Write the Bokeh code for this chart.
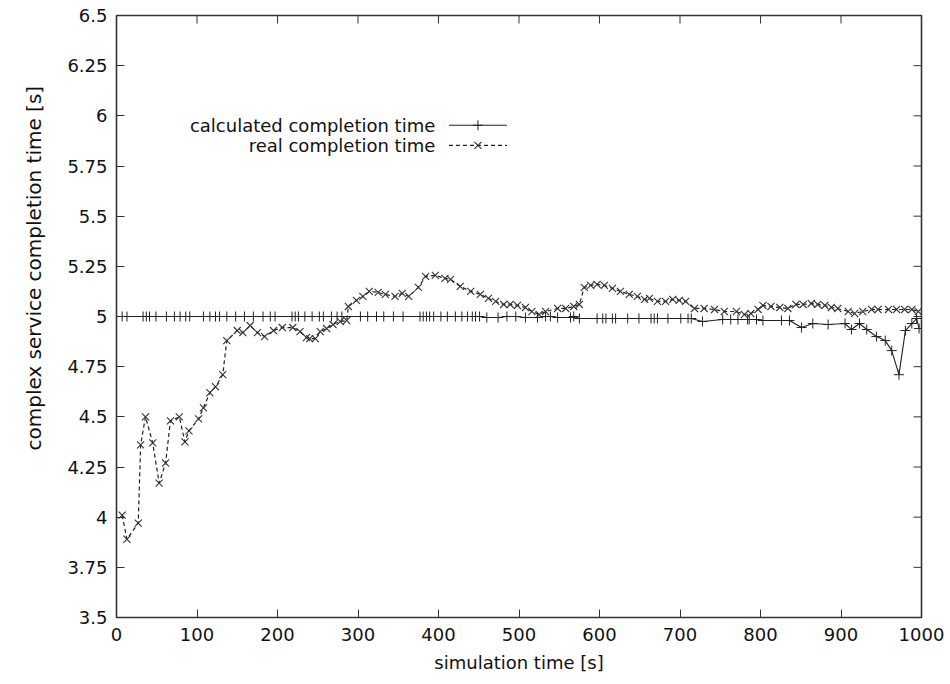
from bokeh.plotting import figure
from bokeh.models import Range1d, FixedTicker, Title
from bokeh.embed import file_html
from bokeh.resources import INLINE
from bokeh.core.properties import value

# ---- data ----
calc_x = [7, 13, 33, 37, 41, 49, 62, 72, 79, 86, 91, 108, 116, 123, 128, 137, 148, 159, 170, 182,
          191, 197, 218, 222, 226, 234, 243, 252, 257, 267, 274, 280, 303, 312, 323, 332, 344, 356,
          377, 381, 385, 389, 394, 403, 411, 421, 429, 436, 442, 446, 451, 460, 474, 485, 496, 508,
          523, 533, 539, 548, 564, 568, 575, 597, 604, 608, 616, 620, 635, 649, 664, 668, 672, 685,
          701, 710, 714, 728, 753, 763, 772, 784, 786, 795, 803, 826, 836, 851, 865, 884, 905, 913,
          923, 932, 944, 955, 963, 972, 980, 988, 994, 997]
calc_y = [5.0, 5.0, 5.0, 5.0, 5.0, 5.0, 5.0, 5.0, 5.0, 5.0, 5.0, 5.0, 5.0, 5.0, 5.0, 5.0, 5.0, 5.0,
          5.0, 5.0, 5.0, 5.0, 5.0, 5.0, 5.0, 5.0, 5.0, 5.0, 5.0, 5.0, 5.0, 5.0, 5.0, 5.0, 5.0, 5.0,
          5.0, 5.0, 5.0, 5.0, 5.0, 5.0, 5.0, 5.0, 5.0, 5.0, 5.0, 5.0, 5.0, 5.0, 5.0, 4.995, 4.995,
          5.0, 5.0, 4.995, 4.995, 5.0, 5.0, 4.995, 4.995, 5.0, 4.99, 4.99, 4.99, 4.99, 4.99, 4.99,
          4.99, 4.99, 4.99, 4.99, 4.99, 4.99, 4.99, 4.99, 4.99, 4.975, 4.985, 4.985, 4.985, 4.985,
          4.985, 4.985, 4.98, 4.98, 4.98, 4.945, 4.965, 4.96, 4.965, 4.935, 4.965, 4.935, 4.90,
          4.88, 4.83, 4.71, 4.93, 4.965, 4.99, 4.94]

real_x = [7, 13, 27, 30, 36, 45, 53, 61, 67, 78, 85, 90, 102, 108, 116, 123, 132, 137, 150, 157,
          166, 175, 184, 195, 206, 219, 228, 236, 240, 247, 253, 261, 269, 278, 286, 288, 298, 306,
          314, 325, 334, 346, 355, 363, 375, 384, 396, 408, 415, 427, 440, 452, 462, 471, 481, 489,
          498, 508, 516, 525, 533, 548, 558, 568, 575, 581, 589, 597, 606, 616, 626, 637, 647, 656,
          662, 672, 682, 691, 699, 707, 718, 730, 743, 755, 770, 780, 788, 797, 803, 813, 824, 834,
          844, 853, 863, 871, 880, 888, 896, 909, 917, 927, 938, 946, 959, 969, 979, 988, 996]
real_y = [4.01, 3.89, 3.97, 4.36, 4.50, 4.37, 4.17, 4.27, 4.48, 4.50, 4.375, 4.43, 4.49, 4.545,
          4.62, 4.65, 4.71, 4.88, 4.93, 4.92, 4.955, 4.92, 4.90, 4.93, 4.945, 4.945, 4.925, 4.895,
          4.89, 4.89, 4.925, 4.94, 4.96, 4.975, 4.98, 5.05, 5.08, 5.10, 5.125, 5.12, 5.11, 5.10,
          5.115, 5.10, 5.145, 5.20, 5.205, 5.19, 5.185, 5.15, 5.125, 5.11, 5.09, 5.075, 5.06, 5.06,
          5.055, 5.045, 5.025, 5.01, 5.025, 5.04, 5.04, 5.05, 5.06, 5.145, 5.155, 5.16, 5.155, 5.14,
          5.125, 5.11, 5.10, 5.085, 5.09, 5.075, 5.075, 5.085, 5.08, 5.075, 5.04, 5.04, 5.035, 5.025,
          5.025, 5.01, 5.015, 5.035, 5.055, 5.05, 5.045, 5.04, 5.06, 5.06, 5.065, 5.06, 5.055, 5.045,
          5.04, 5.025, 5.015, 5.025, 5.035, 5.035, 5.035, 5.035, 5.035, 5.035, 5.025]

x_ticks = [0, 100, 200, 300, 400, 500, 600, 700, 800, 900, 1000]
y_ticks = [3.5, 3.75, 4.0, 4.25, 4.5, 4.75, 5.0, 5.25, 5.5, 5.75, 6.0, 6.25, 6.5]
y_tick_labels = ["3.5", "3.75", "4", "4.25", "4.5", "4.75", "5", "5.25", "5.5", "5.75", "6", "6.25", "6.5"]

series_names = ["calculated completion time", "real completion time"]
x_title = "simulation time [s]"
y_title = "complex service completion time [s]"

FONT = "DejaVu Sans"
INK = "#222222"
X0, X1, Y0, Y1 = 0, 1000, 3.5, 6.5

p = figure(frame_width=805, frame_height=602, output_backend="svg", toolbar_location=None,
           x_range=Range1d(X0, X1), y_range=Range1d(Y0, Y1),
           min_border_left=116, min_border_right=25, min_border_top=15, min_border_bottom=58,
           background_fill_color="white", border_fill_color="white")
p.grid.visible = False
p.outline_line_color = "#333333"
p.outline_line_width = 1.6

for ax in (p.xaxis[0], p.yaxis[0]):
    ax.major_tick_in = 8
    ax.major_tick_out = 0
    ax.minor_tick_in = 0
    ax.minor_tick_out = 0
    ax.axis_line_color = None
    ax.major_tick_line_color = "#333333"
    ax.major_label_text_font = FONT
    ax.major_label_text_font_size = "18px"
    ax.major_label_text_color = "#111111"
    ax.axis_label_text_font = FONT
    ax.axis_label_text_font_style = "normal"
    ax.axis_label_text_color = "#111111"

p.xaxis[0].ticker = FixedTicker(ticks=x_ticks)
p.yaxis[0].ticker = FixedTicker(ticks=y_ticks)
p.yaxis[0].major_label_overrides = {t: l for t, l in zip(y_ticks, y_tick_labels)}
p.xaxis[0].major_label_standoff = 10
p.yaxis[0].major_label_standoff = 9
p.xaxis[0].axis_label = x_title
p.xaxis[0].axis_label_text_font_size = "18px"
p.xaxis[0].axis_label_standoff = 8

# y title: gnuplot places it below the frame's centre
yt = Title(text=y_title, align="left", offset=167, standoff=37,
           text_font=FONT, text_font_size="20px", text_font_style="normal",
           text_color="#111111")
p.add_layout(yt, "left")

# mirrored ticks on the top and right edges (gnuplot style)
tick_len_y = (Y1 - Y0) * 8 / 602
tick_len_x = (X1 - X0) * 8 / 805
p.segment(x0=x_ticks, x1=x_ticks, y0=[Y1] * len(x_ticks), y1=[Y1 - tick_len_y] * len(x_ticks),
          line_color="#333333", line_width=1)
p.segment(x0=[X1] * len(y_ticks), x1=[X1 - tick_len_x] * len(y_ticks), y0=y_ticks, y1=y_ticks,
          line_color="#333333", line_width=1)

# series
p.line(calc_x, calc_y, line_color=INK, line_width=1.1)
p.scatter(calc_x, calc_y, marker="cross", size=10, line_color=INK, line_width=1)
p.line(real_x, real_y, line_color=INK, line_width=1.2, line_dash="4 3")
p.scatter(real_x, real_y, marker="x", size=10, line_color="#333333", line_width=1.1)

# gnuplot-style key: text right-aligned, sample to the right
key_text_x = [396, 396]
key_y = [5.953, 5.853]
p.text(key_text_x, key_y, text=series_names, text_align="right", text_baseline="middle",
       text_font=value(FONT), text_font_size="18px", text_color="#111111")
p.line([413, 485], [key_y[0], key_y[0]], line_color=INK, line_width=1.1)
p.scatter([449], [key_y[0]], marker="cross", size=10, line_color=INK, line_width=1)
p.line([413, 485], [key_y[1], key_y[1]], line_color=INK, line_width=1.2, line_dash="4 3")
p.scatter([449], [key_y[1]], marker="x", size=10, line_color="#333333", line_width=1.1)

open("out.html", "w").write(file_html(p, INLINE))
